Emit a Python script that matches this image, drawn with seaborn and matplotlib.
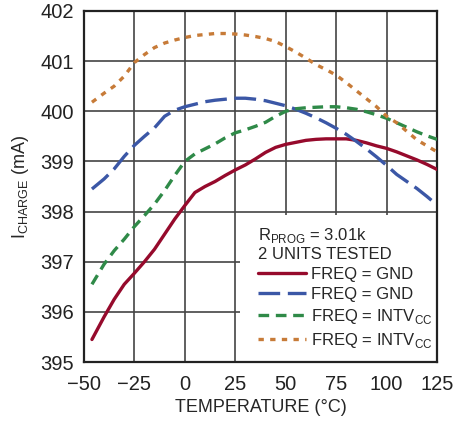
import numpy as np
import pandas as pd
import matplotlib
matplotlib.use("Agg")
import matplotlib.pyplot as plt
from matplotlib.patches import Rectangle
import seaborn as sns

temps = [-46, -40, -35, -30, -25, -20, -15, -10, -5, 0, 5, 10, 15, 20, 25, 30, 35, 40,
         45, 50, 55, 60, 65, 70, 75, 80, 85, 90, 95, 100, 105, 110, 115, 120, 125]

red_gnd = [395.45, 395.9, 396.25, 396.55, 396.77, 397.0, 397.25, 397.55, 397.85, 398.12,
           398.38, 398.5, 398.6, 398.72, 398.83, 398.93, 399.05, 399.18, 399.28, 399.34,
           399.38, 399.42, 399.44, 399.45, 399.45, 399.45, 399.42, 399.37, 399.31, 399.26,
           399.19, 399.11, 399.03, 398.94, 398.84]
blue_gnd = [398.45, 398.65, 398.85, 399.1, 399.32, 399.5, 399.67, 399.9, 400.02, 400.09,
            400.14, 400.19, 400.22, 400.24, 400.26, 400.26, 400.24, 400.21, 400.16, 400.11,
            400.04, 399.96, 399.87, 399.77, 399.66, 399.54, 399.4, 399.25, 399.09, 398.92,
            398.74, 398.6, 398.46, 398.3, 398.13]
green_intv = [396.55, 396.95, 397.22, 397.45, 397.7, 397.92, 398.15, 398.42, 398.72, 399.0,
              399.15, 399.25, 399.35, 399.47, 399.57, 399.63, 399.7, 399.78, 399.9, 400.0,
              400.05, 400.07, 400.08, 400.09, 400.09, 400.07, 400.04, 399.99, 399.93, 399.86,
              399.77, 399.68, 399.59, 399.51, 399.44]
orange_intv = [400.18, 400.36, 400.5, 400.7, 400.97, 401.13, 401.27, 401.36, 401.42, 401.47,
               401.51, 401.53, 401.55, 401.55, 401.54, 401.52, 401.49, 401.45, 401.39, 401.29,
               401.18, 401.06, 400.93, 400.83, 400.72, 400.57, 400.41, 400.25, 400.09, 399.9,
               399.77, 399.6, 399.43, 399.31, 399.19]

labels = ["FREQ = GND", "FREQ = GND",
          "FREQ = INTV$_{\\mathregular{CC}}$", "FREQ = INTV$_{\\mathregular{CC}}$"]

sns.set_style("white")
plt.rcParams["font.family"] = ["Liberation Sans Narrow", "Liberation Sans", "DejaVu Sans"]

fig = plt.figure(figsize=(4.66, 4.21), dpi=100)
ax = fig.add_axes([0.180, 0.140, 0.758, 0.834])

series = [red_gnd, blue_gnd, green_intv, orange_intv]
colors = ["#960a2c", "#3b57a6", "#2f8a48", "#c77b38"]
styles = ["-", (0, (6.5, 2.3)), (0, (3.2, 2.0)), (0, (1.6, 1.9))]

for vals, col, ls, lab in zip(series, colors, styles, labels):
    sns.lineplot(x=temps, y=vals, ax=ax, color=col, linestyle=ls, linewidth=2.4,
                 label=lab, zorder=3)

ax.set_xlim(-50, 125)
ax.set_ylim(395, 402)
ax.set_xticks([-50, -25, 0, 25, 50, 75, 100, 125])
ax.set_yticks(range(395, 403))
ax.grid(True, color="#444444", linewidth=1.2)
ax.set_axisbelow(True)
for sp in ax.spines.values():
    sp.set_color("#222222")
    sp.set_linewidth(1.6)
ax.tick_params(labelsize=14.5, length=0, colors="#222222")
ax.tick_params(axis="x", pad=9)
ax.tick_params(axis="y", pad=7)

# white box behind the legend hides the grid
ax.add_patch(Rectangle((0.442, 0.0), 0.56, 0.419, transform=ax.transAxes,
                       facecolor="white", edgecolor="none", zorder=2))

leg = ax.legend(loc="upper left", bbox_to_anchor=(0.493, 0.388), frameon=False,
                title="R$_{\\mathregular{PROG}}$ = 3.01k\n2 UNITS TESTED",
                alignment="left", fontsize=12, title_fontsize=12,
                handlelength=2.9, handletextpad=0.3, labelspacing=0.3,
                borderpad=0, borderaxespad=0)
leg.get_title().set_linespacing(1.15)

ax.set_xlabel("TEMPERATURE (°C)", fontsize=13)
ax.set_ylabel("I$_{\\mathregular{CHARGE}}$ (mA)", fontsize=13)
ax.xaxis.set_label_coords(0.5, -0.105)
ax.yaxis.set_label_coords(-0.15, 0.5)

fig.savefig("out.png", dpi=100)
